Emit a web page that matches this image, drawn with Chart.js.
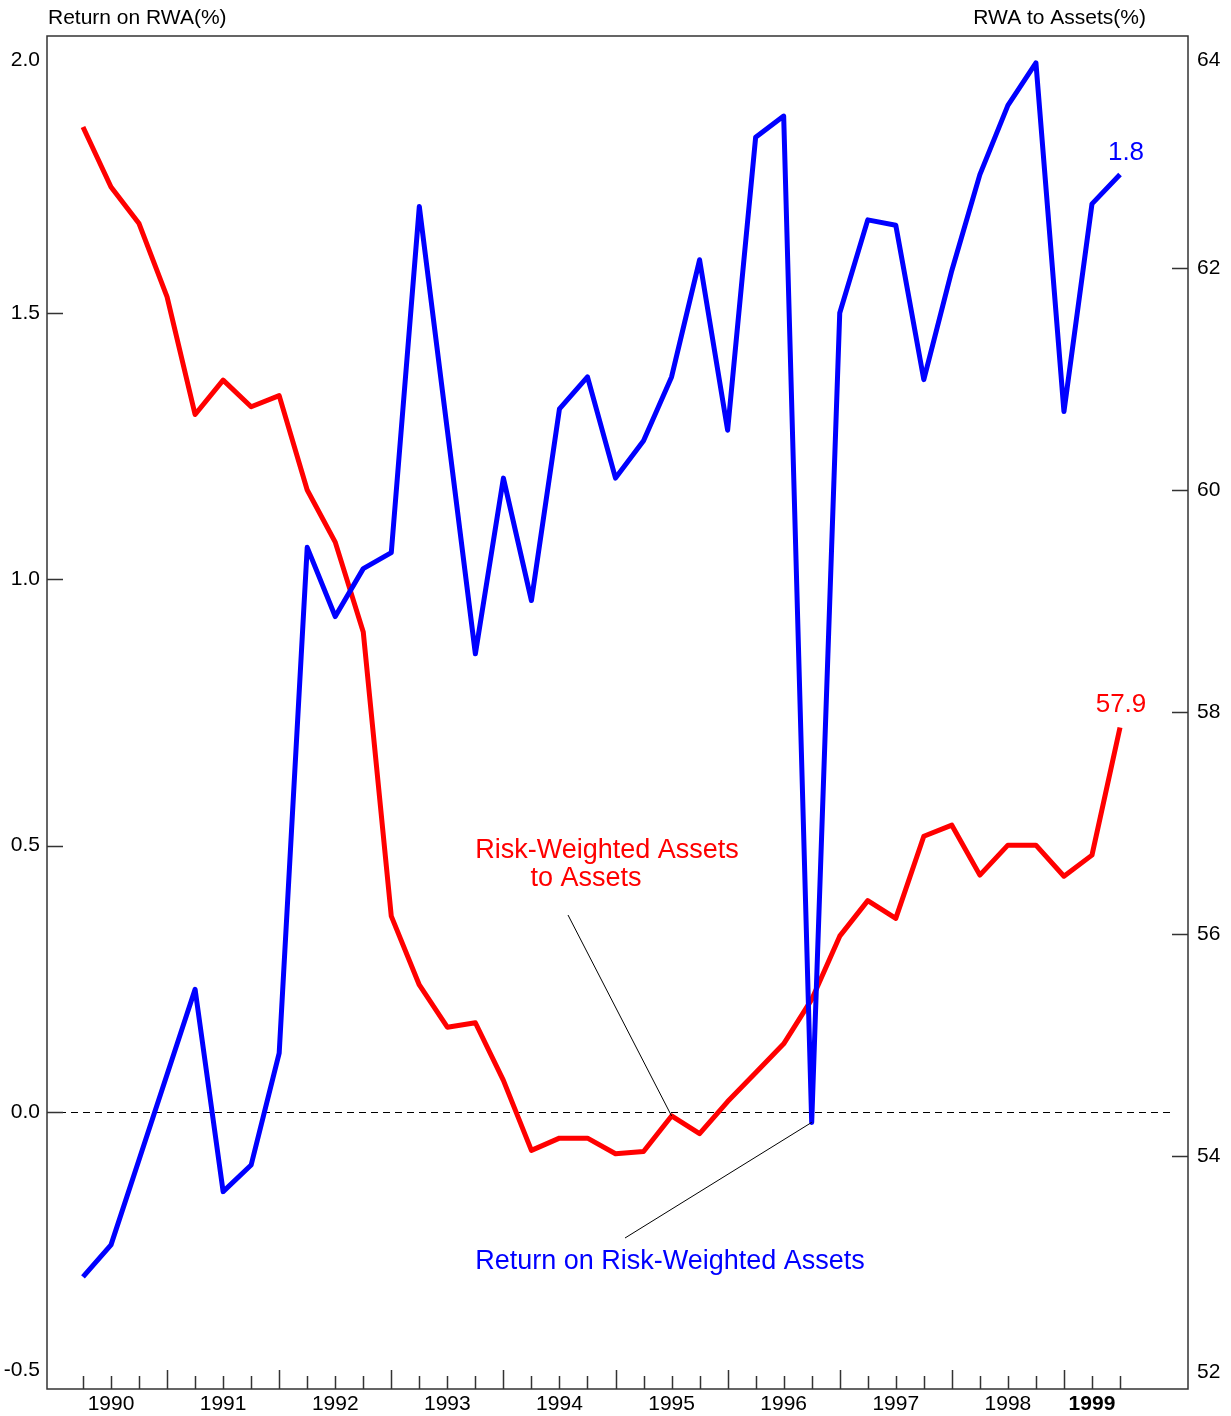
<!DOCTYPE html>
<html>
<head>
<meta charset="utf-8">
<script src="https://cdn.jsdelivr.net/npm/chart.js@4.4.1/dist/chart.umd.min.js"></script>
<style>
  html, body { margin: 0; padding: 0; background: #fff; }
  #wrap { width: 1231px; height: 1416px; }
</style>
</head>
<body>
<div id="wrap"><canvas id="rwaChart" width="1231" height="1416"></canvas></div>
<script>
/* ═══ data ═══ */
// quarter index 0 = 1989 Q4 ... 37 = 1999 Q1
var QUARTERS = [0,1,2,3,4,5,6,7,8,9,10,11,12,13,14,15,16,17,18,19,20,21,22,23,24,25,26,27,28,29,30,31,32,33,34,35,36,37];

// Return on risk-weighted assets (%), left axis
var RETURN_ON_RWA = [-0.31,-0.25,-0.09,0.07,0.23,-0.15,-0.10,0.11,1.06,0.93,1.02,1.05,
                     1.70,1.28,0.86,1.19,0.96,1.32,1.38,1.19,1.26,1.38,1.60,1.28,
                     1.83,1.87,-0.02,1.50,1.675,1.665,1.375,1.58,1.76,1.89,1.97,1.315,
                     1.705,1.76];

// Risk-weighted assets to assets (%), right axis
var RWA_TO_ASSETS = [63.27,62.73,62.40,61.74,60.68,60.99,60.75,60.85,60.00,59.53,58.72,56.16,
                     55.54,55.16,55.20,54.68,54.05,54.16,54.16,54.02,54.04,54.36,54.20,54.49,
                     54.75,55.01,55.41,55.98,56.30,56.14,56.88,56.98,56.53,56.80,56.80,56.52,
                     56.71,57.86];

var YEAR_LABELS = ['1990','1991','1992','1993','1994','1995','1996','1997','1998','1999'];
var YEAR_POS    = [1, 5, 9, 13, 17, 21, 25, 29, 33, 36];
var LEFT_TICKS  = [-0.5, 0, 0.5, 1, 1.5, 2];
var RIGHT_TICKS = [52, 54, 56, 58, 60, 62, 64];

var LAST_ROR_LABEL = '1.8';
var LAST_RWA_LABEL = '57.9';

/* ═══ styles ═══ */
var FONT  = '"Liberation Sans", Arial, Helvetica, sans-serif';
var BLUE  = '#0000ff';
var RED   = '#ff0000';
var FRAME = '#333';

// outermost axis labels sit a little inside the frame (px: bottom, top)
function edgeTicks(ax, list, nudgeBottom, nudgeTop) {
  var perPx = (ax.max - ax.min) / (ax.bottom - ax.top || 1353);
  ax.ticks = list.map(function(v, i) {
    var val = v;
    if (i === 0) val = v + nudgeBottom * perPx;
    if (i === list.length - 1) val = v - nudgeTop * perPx;
    return { value: val };
  });
}

/* ── frame, inside tick marks, zero line, notes ── */
var decorPlugin = {
  id: 'decor',
  beforeDatasetsDraw: function(chart) {
    var c = chart.ctx, a = chart.chartArea, y = chart.scales.y;
    var y0 = Math.round(y.getPixelForValue(0)) + 0.5;
    c.save();
    c.setLineDash([7, 5]);
    c.lineWidth = 1.2;
    c.strokeStyle = '#000';
    c.beginPath(); c.moveTo(a.left, y0); c.lineTo(a.right - 16, y0); c.stroke();
    c.restore();
  },
  afterDatasetsDraw: function(chart) {
    var c = chart.ctx, a = chart.chartArea;
    var x = chart.scales.x, y = chart.scales.y, y1 = chart.scales.y1;
    c.save();
    c.strokeStyle = FRAME;
    c.lineWidth = 1.5;
    c.strokeRect(a.left, a.top, a.right - a.left, a.bottom - a.top);

    // quarter ticks on the bottom edge, long ones at mid-year
    c.beginPath();
    QUARTERS.forEach(function(q) {
      var px = Math.round(x.getPixelForValue(q)) + 0.5;
      var len = (q % 4 === 3) ? 19 : 13;
      c.moveTo(px, a.bottom); c.lineTo(px, a.bottom - len);
    });
    // left ticks (skip the outer ones)
    LEFT_TICKS.slice(1, -1).forEach(function(v) {
      var py = Math.round(y.getPixelForValue(v)) + 0.5;
      c.moveTo(a.left, py); c.lineTo(a.left + 16, py);
    });
    RIGHT_TICKS.slice(1, -1).forEach(function(v) {
      var py = Math.round(y1.getPixelForValue(v)) + 0.5;
      c.moveTo(a.right, py); c.lineTo(a.right - 16, py);
    });
    c.stroke();

    // axis titles
    c.fillStyle = '#000';
    c.font = '21px ' + FONT;
    c.textBaseline = 'middle';
    c.textAlign = 'left';
    c.fillText('Return on RWA(%)', a.left + 1, 18);
    c.textAlign = 'right';
    c.fillText('RWA to Assets(%)', 1146, 18);

    // end-point values
    var last = QUARTERS.length - 1;
    var lx = x.getPixelForValue(QUARTERS[last]);
    c.font = '26px ' + FONT;
    c.textAlign = 'center';
    c.fillStyle = BLUE;
    c.fillText(LAST_ROR_LABEL, lx + 6, y.getPixelForValue(RETURN_ON_RWA[last]) - 22);
    c.fillStyle = RED;
    c.fillText(LAST_RWA_LABEL, lx + 1, y1.getPixelForValue(RWA_TO_ASSETS[last]) - 23);

    // series notes with leader lines
    c.font = '27px ' + FONT;
    c.fillStyle = RED;
    c.fillText('Risk-Weighted Assets', 607, 851);
    c.fillText('to Assets', 586, 879);
    c.fillStyle = BLUE;
    c.fillText('Return on Risk-Weighted Assets', 670, 1262);

    c.strokeStyle = '#000';
    c.lineWidth = 1;
    c.beginPath();
    c.moveTo(568, 915);
    c.lineTo(x.getPixelForValue(21), y1.getPixelForValue(RWA_TO_ASSETS[21]));
    c.moveTo(625, 1238);
    c.lineTo(x.getPixelForValue(26), y.getPixelForValue(RETURN_ON_RWA[26]));
    c.stroke();
    c.restore();
  }
};

function pairs(vals) {
  return QUARTERS.map(function(q, i) { return { x: q, y: vals[i] }; });
}

new Chart(document.getElementById('rwaChart'), {
  type: 'line',
  data: {
    datasets: [
      { label: 'Return on Risk-Weighted Assets', data: pairs(RETURN_ON_RWA), yAxisID: 'y',
        borderColor: BLUE, borderWidth: 5, borderJoinStyle: 'round', pointRadius: 0, tension: 0, fill: false },
      { label: 'Risk-Weighted Assets to Assets', data: pairs(RWA_TO_ASSETS), yAxisID: 'y1',
        borderColor: RED, borderWidth: 5, borderJoinStyle: 'round', pointRadius: 0, tension: 0, fill: false }
    ]
  },
  plugins: [decorPlugin],
  options: {
    responsive: false,
    devicePixelRatio: 1,
    animation: false,
    layout: { padding: { top: 36, left: 0, right: 0, bottom: 0 } },
    plugins: { legend: { display: false }, tooltip: { enabled: false } },
    scales: {
      x: {
        type: 'linear', min: -1.284, max: 39.426,
        grid: { display: false, drawTicks: false }, border: { display: false },
        afterBuildTicks: function(ax) { ax.ticks = YEAR_POS.map(function(v) { return { value: v }; }); },
        afterFit: function(ax) { ax.height = 27; },
        ticks: {
          autoSkip: false, maxRotation: 0, padding: 3, color: '#000',
          font: function(ctx) {
            return { family: FONT, size: 21, weight: ctx.index === YEAR_POS.length - 1 ? 'bold' : 'normal' };
          },
          callback: function(v, i) { return YEAR_LABELS[i]; }
        }
      },
      y: {
        position: 'left', min: -0.5207, max: 2.0203,
        grid: { display: false, drawTicks: false }, border: { display: false },
        afterBuildTicks: function(ax) { edgeTicks(ax, LEFT_TICKS, 8, 13); },
        afterFit: function(ax) { ax.width = 47; },
        ticks: { padding: 7, color: '#000', font: { family: FONT, size: 21 },
          callback: function(v, i) { return LEFT_TICKS[i].toFixed(1); } }
      },
      y1: {
        position: 'right', min: 51.9, max: 64.09,
        grid: { display: false, drawTicks: false }, border: { display: false },
        afterBuildTicks: function(ax) { edgeTicks(ax, RIGHT_TICKS, 6, 14); },
        afterFit: function(ax) { ax.width = 43; },
        ticks: { padding: 9, color: '#000', font: { family: FONT, size: 21 },
          callback: function(v, i) { return String(RIGHT_TICKS[i]); } }
      }
    }
  }
});
</script>
</body>
</html>
